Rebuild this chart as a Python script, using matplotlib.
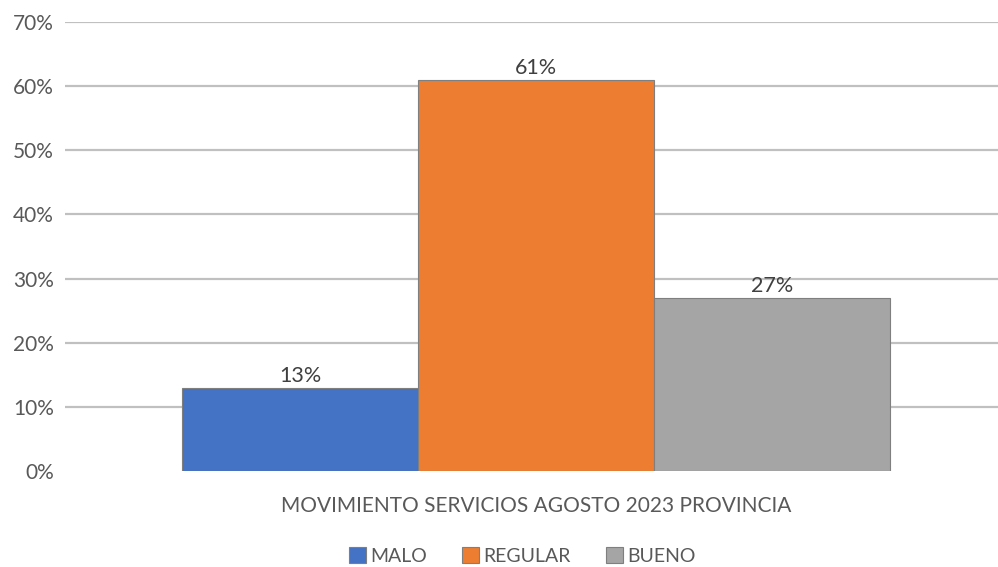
import numpy as np
import matplotlib
matplotlib.use("Agg")
import matplotlib.pyplot as plt
from matplotlib.ticker import FuncFormatter

# datos
categoria = "MOVIMIENTO SERVICIOS AGOSTO 2023 PROVINCIA"
series = ["MALO", "REGULAR", "BUENO"]
valores = [0.13, 0.61, 0.27]
colores = ["#4472C4", "#ED7D31", "#A5A5A5"]

plt.rcParams['font.family'] = ['Lato', 'DejaVu Sans']

fig = plt.figure(figsize=(9.98, 5.67), dpi=100)
ax = fig.add_axes([0.0651, 0.1693, 0.9349, 0.7919])

ancho = 0.2529
for i, (s, v, c) in enumerate(zip(series, valores, colores)):
    x = (i - 1) * ancho
    ax.bar(x, v, width=ancho, color=c, edgecolor="#7f7f7f", linewidth=0.8,
           label=s, zorder=3)
    ax.text(x, v + 0.003, "{:.0f}%".format(v * 100), ha="center", va="bottom",
            fontsize=15.5, color="#404040", zorder=4)

ax.set_xlim(-0.505, 0.495)
ax.set_ylim(0, 0.70)
ax.set_yticks(np.arange(0, 0.71, 0.10))
ax.yaxis.set_major_formatter(FuncFormatter(lambda y, p: "{:.0f}%".format(y * 100)))
ax.grid(axis="y", color="#c0c0c0", linewidth=1.6, zorder=0)
ax.yaxis.get_gridlines()[0].set_visible(False)
ax.set_xticks([0])
ax.set_xticklabels([categoria])
ax.tick_params(axis="both", length=0, labelsize=15, colors="#595959", pad=8)
ax.tick_params(axis="x", pad=18)
for lado in ax.spines.values():
    lado.set_visible(False)

ax.legend(loc="upper center", bbox_to_anchor=(0.49, -0.152), ncol=3, frameon=False,
          fontsize=14, labelcolor="#595959", handlelength=0.9, handleheight=0.9,
          handletextpad=0.2, columnspacing=1.8, borderaxespad=0.2, borderpad=0.2)

fig.savefig("out.png", dpi=100)
